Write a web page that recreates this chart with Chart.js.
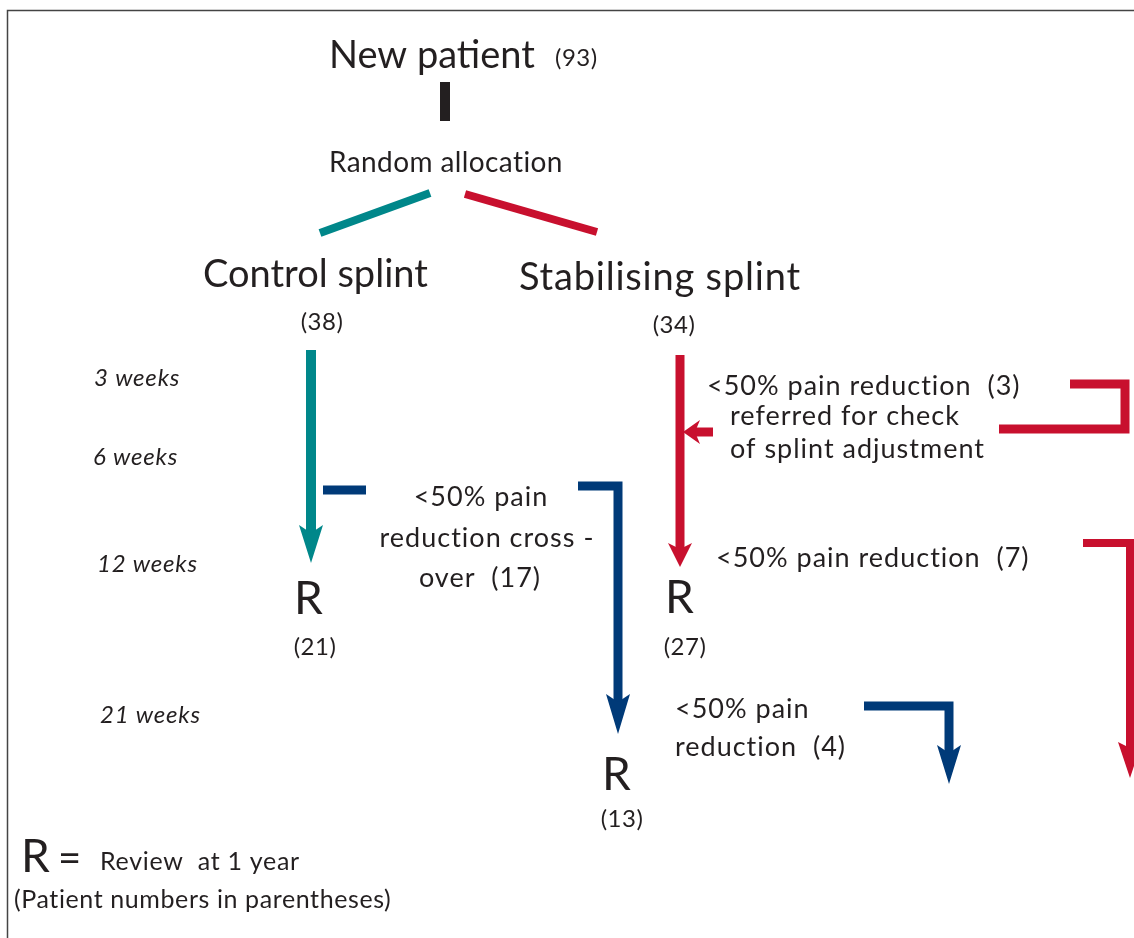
<!DOCTYPE html>
<html>
<head>
<meta charset="utf-8">
<script src="https://cdn.jsdelivr.net/npm/chart.js@4.4.1/dist/chart.umd.min.js"></script>
<style>
  html, body { margin: 0; padding: 0; background: #fff; }
  canvas { display: block; }
</style>
</head>
<body>
<canvas id="flowChart" width="1134" height="938"></canvas>
<script>
// flow chart values
const stages = ['New patient', 'Random allocation', 'Control splint', 'Stabilising splint'];
const stageCounts = [93, 38, 34];
const timepoints = ['3 weeks', '6 weeks', '12 weeks', '21 weeks'];
const reviewCounts = [21, 27, 13];
const dropoutCounts = [17, 3, 7, 4];
const reviewMark = 'R';

const TEXT = '#231f20';
const TEAL = '#00878a';
const RED = '#c8102e';
const NAVY = '#003a78';

// connector geometry (canvas units, y down)
const connectors = [
    { color: '#444', width: 1.5, pts: [[7.5, 938], [7.5, 10.5], [1134, 10.5]] },
    { color: TEXT, width: 10, pts: [[445, 82], [445, 121]] },
    { color: TEAL, width: 8, pts: [[320, 233], [430, 193]] },
    { color: RED, width: 8, pts: [[465, 194], [597, 232]] },
    { color: TEAL, width: 10, pts: [[311, 350], [311, 533]], head: [38, 12, 8] },
    { color: RED, width: 9, pts: [[680, 355], [680, 549]], head: [24, 12, 6] },
    { color: RED, width: 9, pts: [[713, 432], [695, 432]], head: [17, 12, 5] },
    { color: RED, width: 9, pts: [[1070, 384], [1125, 384], [1125, 429], [999, 429]] },
    { color: RED, width: 8, pts: [[1083, 543], [1130, 543], [1130, 748]], head: [36, 12, 6] },
    { color: NAVY, width: 9, pts: [[323, 490], [366, 490]] },
    { color: NAVY, width: 9, pts: [[578, 486], [618, 486], [618, 702]], head: [40, 12, 8] },
    { color: NAVY, width: 9, pts: [[864, 706], [949, 706], [949, 753]], head: [39, 12, 8] }
];

const FONT = 'Lato, "Open Sans", sans-serif';
const pc = n => '(' + n + ')';

// text layout: [text, x, baseline, size, align, italic, letter spacing]
const texts = [
    [stages[0], 329, 68, 38, 'left'],
    [pc(stageCounts[0]), 555, 66, 24, 'left', false, 0.5],
    [stages[1], 329, 172, 28, 'left', false, 0.4],
    [stages[2], 203, 287, 38, 'left'],
    [stages[3], 519, 290, 38, 'left', false, 0.8],
    [pc(stageCounts[1]), 322, 330, 24, 'center', false, 0.5],
    [pc(stageCounts[2]), 674, 333, 24, 'center', false, 0.5],
    [timepoints[0], 94, 386, 24, 'left', true, 0.8],
    [timepoints[1], 93, 465, 24, 'left', true, 0.8],
    [timepoints[2], 97, 572, 24, 'left', true, 0.8],
    [timepoints[3], 100, 723, 24, 'left', true, 0.8],
    ['<50% pain', 481, 506, 27, 'center', false, 1],
    ['reduction cross -', 487, 547, 27, 'center', false, 1],
    ['over  ' + pc(dropoutCounts[0]), 480, 587, 27, 'center', false, 1],
    ['<50% pain reduction  ' + pc(dropoutCounts[1]), 707, 395, 27, 'left', false, 1],
    ['referred for check', 730, 425, 27, 'left', false, 1],
    ['of splint adjustment', 730, 458, 27, 'left', false, 1],
    ['<50% pain reduction  ' + pc(dropoutCounts[2]), 716, 567, 27, 'left', false, 1],
    ['<50% pain', 675, 718, 27, 'left', false, 1],
    ['reduction  ' + pc(dropoutCounts[3]), 675, 756, 27, 'left', false, 1],
    [reviewMark, 294, 614, 46, 'left'],
    [pc(reviewCounts[0]), 315, 655, 24, 'center', false, 0.5],
    [reviewMark, 665, 613, 46, 'left'],
    [pc(reviewCounts[1]), 685, 655, 24, 'center', false, 0.5],
    [reviewMark, 602, 790, 46, 'left'],
    [pc(reviewCounts[2]), 622, 827, 24, 'center', false, 0.5],
    [reviewMark, 21, 872, 46, 'left'],
    ['=', 58, 872, 40, 'left'],
    ['Review  at 1 year', 100, 870, 25, 'left', false, 0.7],
    ['(Patient numbers in parentheses)', 14, 908, 25, 'left', false, 0.6]
];

const arrowHeads = {
    id: 'arrowHeads',
    afterDatasetsDraw(chart) {
        const { ctx, scales: { x, y } } = chart;
        chart.data.datasets.forEach(ds => {
            if (!ds.head) return;
            const n = ds.data.length;
            const a = ds.data[n - 2], b = ds.data[n - 1];
            const ax = x.getPixelForValue(a.x), ay = y.getPixelForValue(a.y);
            const bx = x.getPixelForValue(b.x), by = y.getPixelForValue(b.y);
            const d = Math.hypot(bx - ax, by - ay);
            const ux = (bx - ax) / d, uy = (by - ay) / d;
            const [len, half, notch] = ds.head;
            const tx = bx + ux * (len - notch), ty = by + uy * (len - notch);
            const baseX = tx - ux * len, baseY = ty - uy * len;
            ctx.save();
            ctx.fillStyle = ds.borderColor;
            ctx.beginPath();
            ctx.moveTo(tx, ty);
            ctx.lineTo(baseX - uy * half, baseY + ux * half);
            ctx.lineTo(bx, by);
            ctx.lineTo(baseX + uy * half, baseY - ux * half);
            ctx.closePath();
            ctx.fill();
            ctx.restore();
        });
    }
};

const labelsPlugin = {
    id: 'flowLabels',
    afterDraw(chart) {
        const { ctx, scales: { x, y } } = chart;
        ctx.save();
        ctx.fillStyle = TEXT;
        ctx.textBaseline = 'alphabetic';
        texts.forEach(([t, px, py, size, align, italic, spacing]) => {
            ctx.font = (italic ? 'italic ' : '') + size + 'px ' + FONT;
            ctx.letterSpacing = (spacing || 0) + 'px';
            ctx.textAlign = align;
            ctx.fillText(t, x.getPixelForValue(px), y.getPixelForValue(py));
        });
        ctx.restore();
    }
};

const ctx = document.getElementById('flowChart').getContext('2d');
new Chart(ctx, {
    type: 'scatter',
    data: {
        datasets: connectors.map(c => ({
            data: c.pts.map(p => ({ x: p[0], y: p[1] })),
            showLine: true,
            borderColor: c.color,
            backgroundColor: c.color,
            borderWidth: c.width,
            borderCapStyle: 'butt',
            borderJoinStyle: 'miter',
            pointRadius: 0,
            clip: false,
            head: c.head
        }))
    },
    options: {
        responsive: false,
        animation: false,
        layout: { padding: 0 },
        scales: {
            x: { type: 'linear', min: 0, max: 1134, display: false },
            y: { type: 'linear', min: 0, max: 938, reverse: true, display: false }
        },
        plugins: {
            legend: { display: false },
            tooltip: { enabled: false }
        }
    },
    plugins: [arrowHeads, labelsPlugin]
});
</script>
</body>
</html>
